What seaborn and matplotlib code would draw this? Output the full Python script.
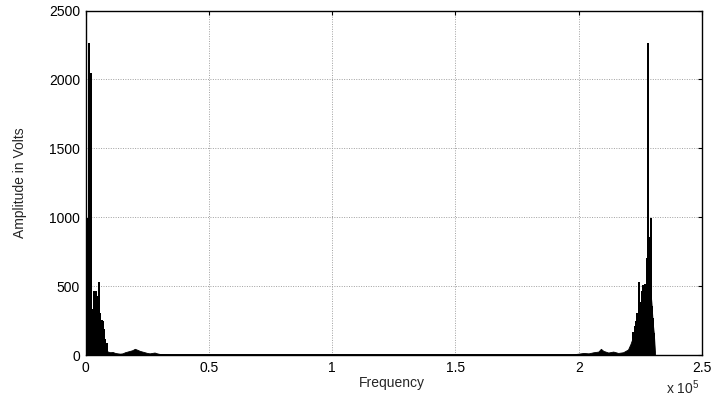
import numpy as np
import pandas as pd
import matplotlib
matplotlib.use("Agg")
import matplotlib.pyplot as plt
import seaborn as sns

# Low-level spectral floor (Hz, amplitude) near DC and near the sampling rate
floor_left_f = [0, 500, 1000, 1500, 2000, 2500, 3000, 3500, 4000, 4500, 5000, 5500,
                6000, 6500, 7000, 7500, 8000, 8500, 9000, 10000, 11000, 12000, 13000,
                14000, 15000, 16000, 17000, 18000, 19000, 20000, 21000, 22000, 23000,
                24000, 25000, 26000, 27000, 28000, 29000, 30000, 32000, 34000, 36000]
floor_left_a = [280, 300, 310, 300, 290, 300, 250, 230, 260, 220, 200, 190,
                200, 160, 120, 80, 50, 35, 25, 20, 22, 15, 12,
                10, 12, 20, 25, 30, 35, 45, 38, 30, 25,
                20, 15, 12, 15, 18, 12, 8, 5, 2, 0]

floor_right_f = [197000, 199000, 200000, 202000, 204000, 206000, 208000, 209000, 210000,
                 212000, 214000, 216000, 218000, 219000, 220000, 221000, 222000, 223000,
                 224000, 225000, 226000, 227000, 228000, 228500, 229000, 229500, 230000,
                 230500, 231000]
floor_right_a = [0, 8, 10, 15, 12, 20, 25, 45, 30,
                 18, 25, 15, 20, 30, 40, 80, 130, 190,
                 220, 290, 340, 370, 560, 650, 480, 380, 240,
                 150, 0]

# Individual spectral lines (Hz, amplitude)
spike_left_f = [300, 700, 1100, 1540, 1900, 2230, 2700, 3300, 3700, 4100, 4500, 5000,
                5600, 6000, 6500, 7000, 7400, 8000, 8600]
spike_left_a = [500, 990, 700, 2260, 600, 2040, 330, 460, 380, 455, 420, 350,
                520, 300, 250, 240, 180, 110, 80]

spike_right_f = [222000, 222400, 222800, 223200, 223600, 224000, 224550, 224850, 225250,
                 225650, 225950, 226270, 226670, 227080, 227560, 227890, 228210, 228620,
                 228900, 229430, 229700, 230000, 230330, 230740]
spike_right_a = [160, 130, 200, 240, 300, 230, 520, 260, 380,
                 460, 500, 430, 480, 510, 530, 700, 2260, 850,
                 600, 990, 350, 260, 200, 150]

x_ticks = [0, 50000, 100000, 150000, 200000, 250000]
x_tick_labels = ["0", "0.5", "1", "1.5", "2", "2.5"]
y_ticks = [0, 500, 1000, 1500, 2000, 2500]

sns.set_style("white")
plt.rcParams["font.family"] = ["Liberation Sans", "DejaVu Sans"]
plt.rcParams["mathtext.fontset"] = "custom"
plt.rcParams["mathtext.rm"] = "Liberation Sans"

FS = 10

fig = plt.figure(figsize=(7.15, 4.01), dpi=100)
ax = fig.add_axes([0.1196, 0.1147, 0.8622, 0.8591])

# Stem-style trace: each line rises from zero to its amplitude and back
def stem_trace(freqs, amps):
    xs, ys = [], []
    for f, a in zip(freqs, amps):
        xs += [f, f, f]
        ys += [0, a, 0]
    return xs, ys

lx, ly = stem_trace(spike_left_f, spike_left_a)
rx, ry = stem_trace(spike_right_f, spike_right_a)
trace = pd.DataFrame({
    "Frequency": lx + [36000, 197000] + rx,
    "Amplitude": ly + [0, 0] + ry,
})

ax.fill_between(floor_left_f, floor_left_a, 0, color="black", lw=0.6, zorder=3)
ax.fill_between(floor_right_f, floor_right_a, 0, color="black", lw=0.6, zorder=3)
sns.lineplot(data=trace, x="Frequency", y="Amplitude", sort=False, estimator=None,
             color="black", lw=1.4, ax=ax, zorder=4)

ax.set_xlim(0, 250000)
ax.set_ylim(0, 2500)
ax.set_xticks(x_ticks)
ax.set_xticklabels(x_tick_labels)
ax.set_yticks(y_ticks)
ax.set_yticklabels([str(v) for v in y_ticks])

ax.grid(True, color="#a0a0a0", linestyle=(0, (1, 1.5)), linewidth=0.7)
ax.set_axisbelow(True)
for s in ax.spines.values():
    s.set_color("black")
    s.set_linewidth(1.0)
    s.set_visible(True)
ax.tick_params(direction="in", top=True, right=True, length=3, width=0.8,
               labelsize=FS, colors="black", pad=4)

ax.set_xlabel("Frequency", fontsize=FS)
ax.set_ylabel("Amplitude in Volts", fontsize=FS)
ax.xaxis.set_label_coords(0.497, -0.062)
ax.yaxis.set_label_coords(-0.095, 0.5)
fig.text(0.955, 0.032, r"x 10$^{5}$", fontsize=FS, ha="center", va="center")

fig.savefig("out.png", dpi=100)
